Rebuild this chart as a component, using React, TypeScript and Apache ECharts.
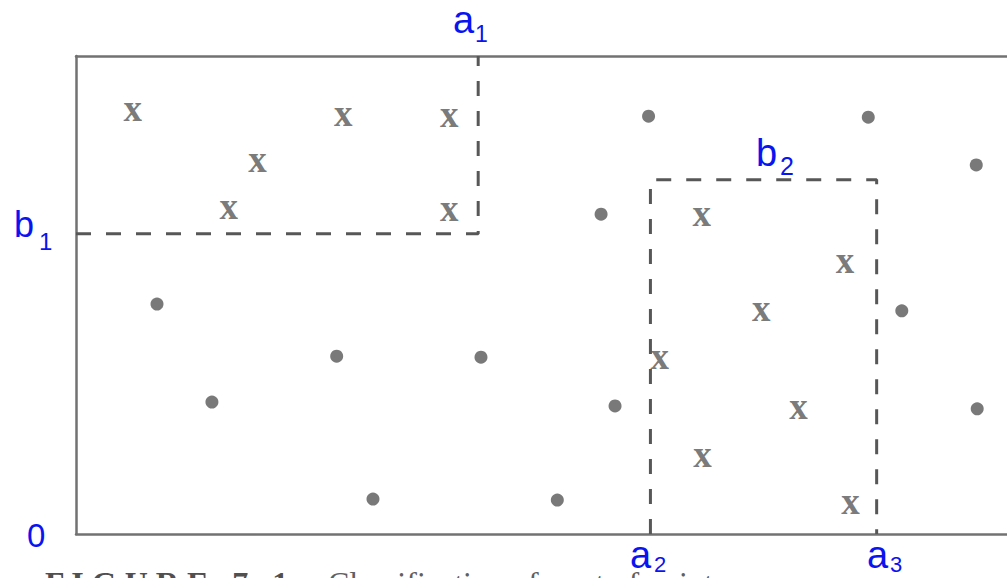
import React, { useEffect, useRef } from "react";
import * as echarts from "echarts";

// Class "x" points (x, y) in axis units 0..100
const crossPoints: number[][] = [
  [6.1, 88.1], [28.7, 87.2], [40.1, 87.0], [19.5, 77.6], [16.4, 67.6], [40.1, 67.2],
  [67.2, 66.3], [82.6, 56.3], [73.6, 46.4], [62.7, 36.4], [77.6, 25.9], [67.3, 15.7], [83.2, 5.9],
];
// Class "dot" points
const dotPoints: number[][] = [
  [61.5, 87.4], [85.1, 87.2], [96.7, 77.2], [56.4, 66.9], [8.7, 48.1], [88.7, 46.7],
  [28.0, 37.2], [43.5, 37.0], [14.6, 27.6], [57.9, 26.8], [96.8, 26.2], [31.9, 7.3], [51.7, 7.1],
];
// Decision thresholds
const A1 = 43.2;
const B1 = 62.8;
const A2 = 61.7;
const A3 = 86.0;
const B2 = 74.1;
const Y_MAX = 100;
const X_MAX = 100;

const region1: number[][] = [[0, B1], [A1, B1], [A1, Y_MAX]];
const region2: number[][] = [[A2, 0], [A2, B2], [A3, B2], [A3, 0]];

const BLUE = "#0a14f0";
const INK = "#575757";
const SANS = "Liberation Sans, Arial, sans-serif";
const SERIF = "Liberation Serif, Times New Roman, serif";

// text placed with its baseline at y (middle baseline ~0.35em above alphabetic)
function txt(s: string, x: number, baseline: number, size: number, color = BLUE, family = SANS, weight = "normal") {
  return {
    type: "text",
    x,
    y: baseline - 0.35 * size,
    z: 10,
    style: { text: s, fontFamily: family, fontSize: size, fontWeight: weight, fill: color, align: "left", verticalAlign: "middle" },
  };
}

function sub(main: string, s: string, x: number, base: number, size: number, sx: number, sbase: number, ssize: number) {
  return [txt(main, x, base, size), txt(s, sx, sbase, ssize)];
}

export default function App() {
  const ref = useRef<HTMLDivElement>(null);
  useEffect(() => {
    if (!ref.current) return;
    const chart = echarts.init(ref.current, undefined, { renderer: "svg" });
    const dashStyle = { color: INK, width: 3, type: [15, 15] as any };
    const axisStyle = { show: true, onZero: false, lineStyle: { color: "#727272", width: 2.5 } };
    chart.setOption({
      animation: false,
      backgroundColor: "#ffffff",
      grid: { left: 76, right: 0, top: 56, bottom: 44 },
      xAxis: [
        {
          type: "value", min: 0, max: X_MAX, position: "bottom", axisLine: axisStyle,
          axisTick: { show: false }, axisLabel: { show: false }, splitLine: { show: false },
        },
        {
          type: "value", min: 0, max: X_MAX, position: "top", axisLine: axisStyle,
          axisTick: { show: false }, axisLabel: { show: false }, splitLine: { show: false },
        },
      ],
      yAxis: {
        type: "value", min: 0, max: Y_MAX, axisLine: axisStyle,
        axisTick: { show: false }, axisLabel: { show: false }, splitLine: { show: false },
      },
      series: [
        { type: "line", data: region1, symbol: "none", lineStyle: dashStyle, silent: true },
        { type: "line", data: region2, symbol: "none", lineStyle: dashStyle, silent: true },
        {
          type: "scatter", data: dotPoints, symbol: "circle", symbolSize: 13,
          itemStyle: { color: INK },
        },
        {
          type: "scatter", data: crossPoints, symbol: "circle", symbolSize: 1,
          itemStyle: { color: "rgba(0,0,0,0)" },
          label: {
            show: true, position: "inside", formatter: "x", offset: [0, -4],
            fontFamily: SERIF, fontWeight: "bold", fontSize: 37, color: INK,
          },
        },
      ],
      graphic: [
        ...sub("a", "1", 453, 33, 38, 475, 42, 23),
        ...sub("b", "1", 14, 237, 36, 39, 250, 24),
        ...sub("b", "2", 756, 166, 38, 780, 175, 25),
        ...sub("a", "2", 630, 568, 38, 654, 572, 22),
        ...sub("a", "3", 867, 568, 38, 890, 572, 22),
        txt("0", 27, 547, 33),
        txt("F I G U R E   7 . 1", 45, 594, 32, "#505050", SERIF, "bold"),
        txt("Classification of a set of points", 328, 594, 32, "#606060", SERIF),
      ],
    });
    return () => chart.dispose();
  }, []);
  return <div ref={ref} style={{ position: "fixed", left: 0, top: 0, width: 1007, height: 578, background: "#fff" }} />;
}
